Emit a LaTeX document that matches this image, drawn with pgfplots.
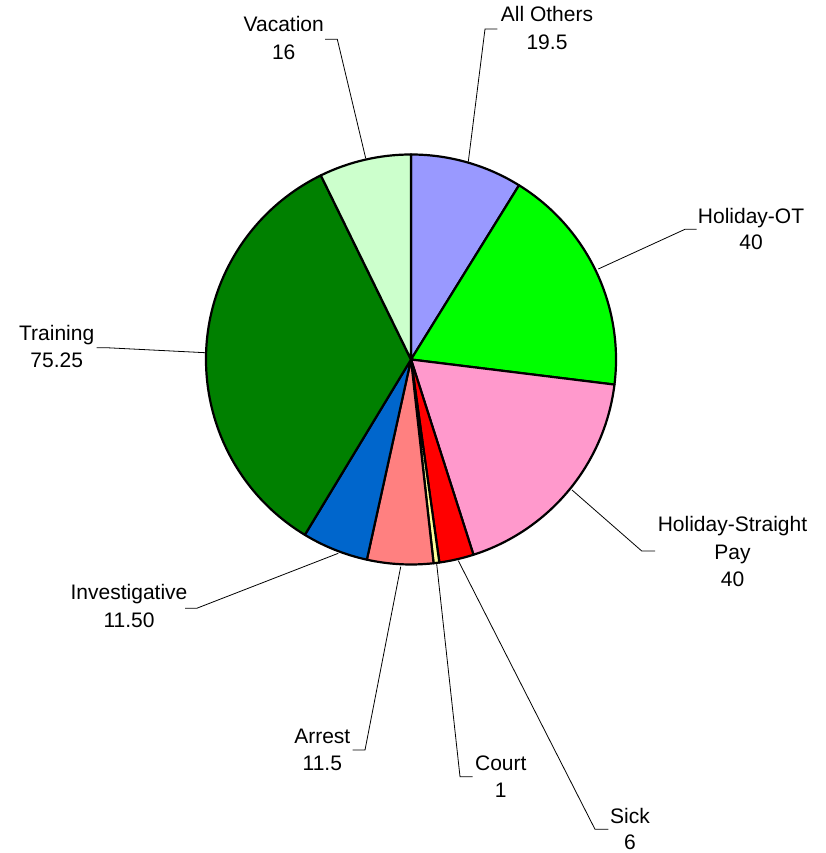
\documentclass[border=0pt]{standalone}
\usepackage{pgfplots}
\usepackage{pgfplotstable}
\pgfplotsset{compat=1.18}
\usepackage{fontspec}
\setmainfont{Liberation Sans}
\definecolor{pieAll}{HTML}{9999FF}
\definecolor{pieHOT}{HTML}{00FF00}
\definecolor{pieHSP}{HTML}{FF99CC}
\definecolor{pieSick}{HTML}{FF0000}
\definecolor{pieCourt}{HTML}{FFFF99}
\definecolor{pieArrest}{HTML}{FF8080}
\definecolor{pieInv}{HTML}{0066CC}
\definecolor{pieTrain}{HTML}{008000}
\definecolor{pieVac}{HTML}{CCFFCC}

\pgfplotstableread[col sep=comma]{
label,value,color
All Others,19.5,pieAll
Holiday-OT,40,pieHOT
Holiday-Straight Pay,40,pieHSP
Sick,6,pieSick
Court,1,pieCourt
Arrest,11.5,pieArrest
Investigative,11.5,pieInv
Training,75.25,pieTrain
Vacation,16,pieVac
}\piedata

\begin{document}
\begin{tikzpicture}
\pgfplotstablegetrowsof{\piedata}
\pgfmathtruncatemacro\lastrow{\pgfplotsretval-1}
\xdef\pietotal{0}
\foreach \i in {0,...,\lastrow}{%
  \pgfplotstablegetelem{\i}{value}\of\piedata
  \pgfmathsetmacro\tmpsum{\pietotal+\pgfplotsretval}%
  \xdef\pietotal{\tmpsum}%
}
\xdef\curang{90}
\begin{axis}[
  scale only axis, width=825pt, height=853pt,
  xmin=0, xmax=825, ymin=0, ymax=853,
  hide axis, clip=false,
  font=\fontsize{21}{25}\selectfont,
]
\path (axis cs:0,0) rectangle (axis cs:825,853);
\foreach \i in {0,...,\lastrow}{%
  \pgfplotstablegetelem{\i}{value}\of\piedata
  \let\val\pgfplotsretval
  \pgfplotstablegetelem{\i}{color}\of\piedata
  \let\col\pgfplotsretval
  \pgfmathsetmacro\endang{\curang-(\val/\pietotal)*360}%
  \edef\temp{\noexpand\filldraw[fill=\col,draw=black,line width=2.2pt,line join=round]
    (axis cs:411,493.5) -- ++(\curang:205pt)
    arc[start angle=\curang,end angle=\endang,radius=205pt] -- cycle;}%
  \temp
  \xdef\curang{\endang}%
}
% leader lines
\addplot[black,line width=0.8pt,mark=none] coordinates {(325,813.7) (337.3,813.7) (365.7,694.7)};
\addplot[black,line width=0.8pt,mark=none] coordinates {(497.3,824) (485,824) (468.3,691.3)};
\addplot[black,line width=0.8pt,mark=none] coordinates {(696.7,623.7) (685,623.7) (598.3,584)};
\addplot[black,line width=0.8pt,mark=none] coordinates {(655,302) (641.7,302) (572,363)};
\addplot[black,line width=0.8pt,mark=none] coordinates {(96.7,505.3) (106,505.3) (205,500.3)};
\addplot[black,line width=0.8pt,mark=none] coordinates {(185,244.7) (196.7,244.7) (338.3,299.7)};
\addplot[black,line width=0.8pt,mark=none] coordinates {(352.7,103) (365,103) (400.7,286.3)};
\addplot[black,line width=0.8pt,mark=none] coordinates {(472.7,76.3) (460,76.3) (436.7,289)};
\addplot[black,line width=0.8pt,mark=none] coordinates {(608.3,23.7) (595,23.7) (458.3,292.3)};
% labels
\tikzset{lb/.style={anchor=base,inner sep=0pt}}
\node[lb] at (axis cs:283.7,821.3) {Vacation};
\node[lb] at (axis cs:283.7,793.5) {16};
\node[lb] at (axis cs:547,831) {All Others};
\node[lb] at (axis cs:547,803) {19.5};
\node[lb] at (axis cs:751,629.7) {Holiday-OT};
\node[lb] at (axis cs:751,603) {40};
\node[lb] at (axis cs:732.5,321.3) {Holiday-Straight};
\node[lb] at (axis cs:732.5,293.8) {Pay};
\node[lb] at (axis cs:732.5,266.3) {40};
\node[lb] at (axis cs:56.7,512) {Training};
\node[lb] at (axis cs:56.7,485) {75.25};
\node[lb] at (axis cs:129,253) {Investigative};
\node[lb] at (axis cs:129,225.5) {11.50};
\node[lb] at (axis cs:322.3,109) {Arrest};
\node[lb] at (axis cs:322.3,82) {11.5};
\node[lb] at (axis cs:500.8,82.3) {Court};
\node[lb] at (axis cs:500.8,55.5) {1};
\node[lb] at (axis cs:630,29.7) {Sick};
\node[lb] at (axis cs:630,3) {6};
\end{axis}
\end{tikzpicture}
\end{document}
